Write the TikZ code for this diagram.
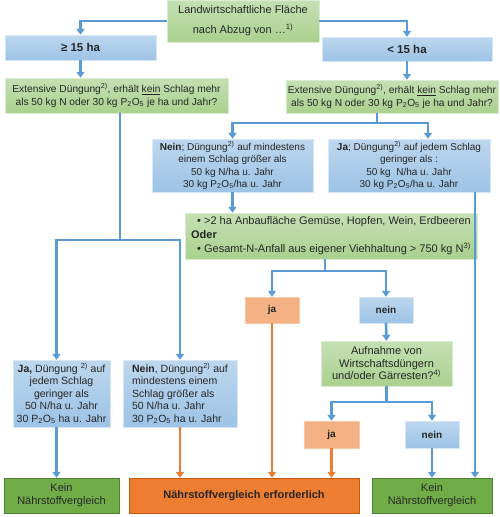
\documentclass[tikz,border=0pt]{standalone}
\usepackage{fontspec}
\setmainfont{Liberation Sans}
\usetikzlibrary{arrows.meta}
\usepackage{xcolor}
\definecolor{flow}{RGB}{91,155,213}
\definecolor{hot}{RGB}{237,125,49}
\definecolor{hotedge}{RGB}{197,90,17}
\definecolor{skytop}{RGB}{189,215,238}
\definecolor{skybot}{RGB}{157,195,230}
\definecolor{leaftop}{RGB}{197,224,180}
\definecolor{leafbot}{RGB}{169,209,142}
\definecolor{salmon}{RGB}{244,177,131}
\definecolor{grass}{RGB}{112,173,71}
\definecolor{grassedge}{RGB}{84,130,53}
\newcommand{\phos}{P\textsubscript{2}O\textsubscript{5}}
\newcommand{\fs}[2]{\fontsize{#1}{#2}\selectfont}

\begin{document}
\begin{tikzpicture}[x=1pt, y=-1pt,
  card/.style={inner sep=2pt, align=center, text=black!85},
  bluebox/.style={card, top color=skytop, bottom color=skybot, draw=skytop!60!white, font=\fs{10}{12.4}},
  greenbox/.style={card, top color=leaftop, bottom color=leafbot, draw=leaftop!60!white, font=\fs{10.2}{13}},
  salmonbox/.style={card, fill=salmon, draw=salmon!70!white, font=\fs{10}{12}\bfseries},
  keinbox/.style={card, fill=grass, draw=grassedge, font=\fs{11}{13}},
  resultbox/.style={card, fill=hot, draw=hotedge, font=\fs{11}{13}\bfseries},
  line/.style={line width=2.6pt, draw=flow},
  link/.style={line, -{Triangle[width=8pt,length=6pt]}},
  hotlink/.style={link, draw=hot}
]
  \useasboundingbox (0,0) rectangle (500,517);

  % start and area split
  \node[greenbox, font=\fs{11}{20}, minimum width=152pt, minimum height=42pt] (area) at (243,21)
    {Landwirtschaftliche Fläche\\nach Abzug von …\textsuperscript{1)}};
  \node[bluebox, font=\fs{11.5}{13}\bfseries, minimum width=151pt, minimum height=25pt] (big) at (80.5,47.5) {≥ 15 ha};
  \node[bluebox, font=\fs{11.5}{13}\bfseries, minimum width=170pt, minimum height=24pt] (small) at (407,49) {< 15 ha};

  % extensive question
  \node[greenbox, minimum width=223pt, minimum height=35pt] (extL) at (116.5,95.5)
    {Extensive Düngung\textsuperscript{2)}, erhält \underline{kein} Schlag mehr\\als 50 kg N oder 30 kg \phos{} je ha und Jahr?};
  \node[greenbox, minimum width=210pt, minimum height=33pt] (extR) at (392,96.5)
    {Extensive Düngung\textsuperscript{2)}, erhält \underline{kein} Schlag mehr\\als 50 kg N oder 30 kg \phos{} je ha und Jahr?};

  % answers under 15 ha
  \node[bluebox, minimum width=161pt, minimum height=53pt] (neinR) at (232.5,165.5)
    {\textbf{Nein}; Düngung\textsuperscript{2)} auf mindestens\\einem Schlag größer als\\50 kg N/ha u. Jahr\\ 30 kg \phos{}/ha u. Jahr};
  \node[bluebox, minimum width=162pt, minimum height=53pt] (jaR) at (409,165.5)
    {\textbf{Ja}; Düngung\textsuperscript{2)} auf jedem Schlag\\geringer als :\\50 kg\ \ N/ha u. Jahr\\30 kg \phos{}/ha u. Jahr};
  \node[greenbox, align=left, font=\fs{11}{14}, minimum width=292pt, minimum height=46pt] (cond) at (331,236)
    {\ \ \textbullet\ >2 ha Anbaufläche Gemüse, Hopfen, Wein, Erdbeeren\\\textbf{Oder}\\\ \ \textbullet\ Gesamt-N-Anfall aus eigener Viehhaltung > 750 kg N\textsuperscript{3)}};
  \node[salmonbox, minimum width=54pt, minimum height=26pt] (jaM) at (272,310) {ja};
  \node[bluebox, font=\fs{10}{12}\bfseries, minimum width=54pt, minimum height=26pt] (neinM) at (386,310) {nein};
  \node[greenbox, font=\fs{11}{12.5}, minimum width=131pt, minimum height=45pt] (manure) at (386.5,363.5)
    {Aufnahme von\\Wirtschaftsdüngern\\und/oder Gärresten?\textsuperscript{4)}};
  \node[salmonbox, minimum width=55pt, minimum height=27pt] (jaB) at (331.5,434.5) {ja};
  \node[bluebox, font=\fs{10}{12}\bfseries, minimum width=54pt, minimum height=27pt] (neinB) at (432,434.5) {nein};

  % answers from 15 ha
  \node[bluebox, font=\fs{10.5}{12.5}, minimum width=97pt, minimum height=67pt] (jaL) at (61.5,393.5)
    {\textbf{Ja,} Düngung \textsuperscript{2)} auf\\jedem Schlag\\geringer als\\50 N/ha u. Jahr\\ 30 \phos{} ha u. Jahr};
  \node[bluebox, align=left, font=\fs{10.5}{12.5}, minimum width=114pt, minimum height=67pt] (neinL) at (180,393.5)
    {\textbf{Nein}, Düngung\textsuperscript{2)} auf\\ mindestens einem\\ Schlag größer als\\ 50 N/ha u. Jahr\\ 30 \phos{} ha u. Jahr};

  % outcomes
  \node[keinbox, minimum width=115pt, minimum height=35pt] (keinL) at (61.5,495.5) {Kein\\Nährstoffvergleich};
  \node[resultbox, minimum width=230pt, minimum height=35pt] (result) at (244,495.5) {Nährstoffvergleich erforderlich};
  \node[keinbox, minimum width=120pt, minimum height=35pt] (keinR) at (432,495.5) {Kein\\Nährstoffvergleich};

  % branch points
  \coordinate (splitL) at (120,240);
  \coordinate (splitR) at (377,123);
  \coordinate (splitC) at (325,271);
  \coordinate (splitA) at (386.5,402);
  \coordinate (runR) at (475,192);

  % connectors
  \draw[link] (area.west) -| (big.north);
  \draw[link] (area.east) -| (small.north);
  \draw[link] (big.south) -- (big.south |- extL.north);
  \draw[link] (small.south) -- (small.south |- extR.north);
  \draw[line] (extR.south -| splitR) -- (splitR);
  \draw[link] (splitR) -| (neinR.north);
  \draw[link] (splitR) -| ([xshift=19pt]jaR.north);
  \draw[link] (neinR.south) -- (neinR.south |- cond.north);
  \draw[link] (runR) -- (runR |- keinR.north);
  \draw[line] (cond.south -| splitC) -- (splitC);
  \draw[link] (splitC) -| (jaM.north);
  \draw[link] (splitC) -| (neinM.north);
  \draw[hotlink] (jaM.south) -- (jaM.south |- result.north);
  \draw[link] (neinM.south) -- (manure.north);
  \draw[line] (manure.south) -- (splitA);
  \draw[link] (splitA) -| (jaB.north);
  \draw[link] (splitA) -| (neinB.north);
  \draw[hotlink] (jaB.south) -- (jaB.south |- result.north);
  \draw[link] (neinB.south) -- (neinB.south |- keinR.north);
  \draw[line] (extL.south -| splitL) -- (splitL);
  \draw[link] (splitL) -| ([xshift=-5pt]jaL.north);
  \draw[link] (splitL) -| (neinL.north);
  \draw[link] ([xshift=-5pt]jaL.south) -- ([xshift=-5pt]jaL.south |- keinL.north);
  \draw[hotlink] (neinL.south) -- (neinL.south |- result.north);
\end{tikzpicture}
\end{document}
